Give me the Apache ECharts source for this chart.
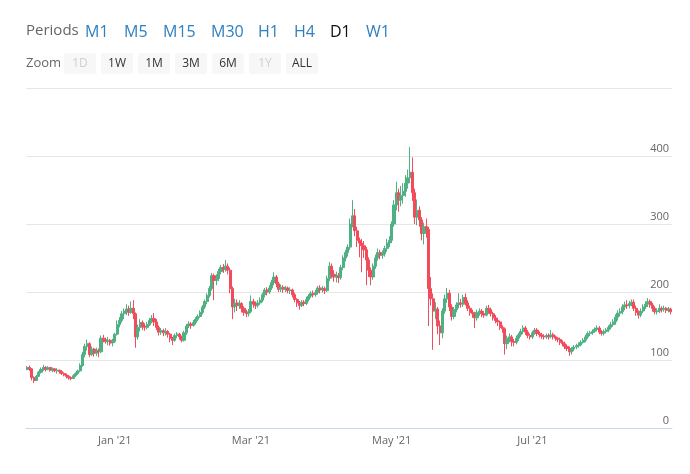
<!DOCTYPE html>
<html><head><meta charset="utf-8">
<script src="https://cdn.jsdelivr.net/npm/echarts@6/dist/echarts.min.js"></script>
<style>html,body{margin:0;padding:0;background:#fff}#c{width:690px;height:474px}</style>
</head><body><div id="c"></div>
<script>
// Daily candles, first day 2020-11-24
const startDate = '2020-11-24';
const opens = [
86,89,87,74,70,76,82,86,89,86,
89,85,87,84,85,83,80,78,76,74,
73,77,80,84,92,108,120,124,108,116,
110,114,112,132,130,127,129,125,
127,138,152,158,168,172,175,170,176,168,
134,148,155,150,148,152,158,161,156,148,
141,143,140,142,138,132,129,136,138,134,
129,140,150,153,151,155,160,164,170,178,
186,195,205,224,217,220,230,236,233,238,
232,205,178,184,180,183,176,170,168,171,
186,182,180,184,188,196,203,200,206,214,
222,212,204,207,204,206,202,203,196,189,
184,180,185,183,189,194,198,196,199,206,
203,205,202,220,238,226,222,224,221,236,
250,258,266,300,312,290,276,272,268,262,
247,232,222,238,250,258,254,256,264,272,
276,300,328,346,335,342,348,360,368,376,
346,310,320,306,286,296,292,205,190,172,
175,150,140,172,190,198,178,164,174,181,
184,182,192,184,176,170,168,162,170,172,
168,166,176,174,168,162,158,156,148,146,
124,132,134,127,126,132,137,142,147,141,
136,134,140,144,139,137,135,134,136,134,
137,134,132,130,126,124,120,117,112,116,
119,121,122,126,129,134,139,140,142,145,
147,141,139,142,144,148,152,156,163,169,
171,178,181,180,183,185,176,170,166,172,
178,182,186,181,176,171,172,176,174,176,
173,175];
const closes = [
89,87,74,70,76,82,86,89,86,89,
85,87,84,85,83,80,78,76,74,73,
77,80,84,92,108,120,124,108,116,110,
114,112,132,130,127,129,125,127,
138,152,158,168,172,175,170,176,168,134,
148,155,150,148,152,158,161,156,148,141,
143,140,142,138,132,129,136,138,134,129,
140,150,153,151,155,160,164,170,178,186,
195,205,224,217,220,230,236,233,238,232,
205,178,184,180,183,176,170,168,171,186,
182,180,184,188,196,203,200,206,214,222,
212,204,207,204,206,202,203,196,189,184,
180,185,183,189,194,198,196,199,206,203,
205,202,220,238,226,222,224,221,236,250,
258,266,300,312,290,276,272,268,262,247,
232,222,238,250,258,254,256,264,272,276,
300,328,346,335,342,348,360,368,376,346,
310,320,306,286,296,292,205,190,172,175,
150,140,172,190,198,178,164,174,181,184,
182,192,184,176,170,168,162,170,172,168,
166,176,174,168,162,158,156,148,146,124,
132,134,127,126,132,137,142,147,141,136,
134,140,144,139,137,135,134,136,134,137,
134,132,130,126,124,120,117,112,116,119,
121,122,126,129,134,139,140,142,145,147,
141,139,142,144,148,152,156,163,169,171,
178,181,180,183,185,176,170,166,172,178,
182,186,181,176,171,172,176,174,176,173,
175,171];
const lows = [
85,84,70,66,69,75,80,84,83,85,
83,82,82,80,80,78,76,73,71,70,
72,75,78,82,90,104,114,104,106,105,
106,104,110,126,124,122,121,120,
125,136,148,155,160,166,165,168,160,118,
130,142,144,143,145,150,154,150,144,136,
137,135,136,133,126,122,127,132,130,126,
127,137,147,146,149,152,157,162,167,175,
182,192,202,188,210,216,226,228,230,226,
198,160,170,172,175,170,165,163,164,169,
177,175,177,181,185,192,195,197,203,210,
207,200,200,199,200,198,197,192,185,178,
174,178,179,181,186,191,192,193,196,198,
199,197,200,216,220,215,214,213,218,232,
245,252,262,295,282,266,251,229,250,210,
222,210,218,234,246,248,249,252,259,266,
272,296,320,318,326,330,340,352,360,334,
300,298,296,276,270,280,150,180,115,160,
138,122,132,168,184,172,158,160,170,176,
177,178,180,172,165,162,147,158,165,163,
162,164,168,164,158,154,150,144,140,108,
116,126,120,120,123,128,134,138,137,132,
130,131,137,135,133,131,130,131,130,132,
130,128,126,122,120,116,113,106,108,113,
116,118,120,124,126,131,135,137,140,142,
138,136,136,139,141,145,149,152,158,164,
167,173,175,176,179,172,165,161,163,169,
175,178,177,171,167,167,169,170,171,169,
170,167];
const highs = [
91,92,88,76,78,84,89,93,91,91,
90,89,88,88,86,85,82,80,78,76,
79,82,86,95,112,124,130,126,120,118,
118,117,136,137,133,134,131,131,
140,158,163,172,176,182,180,186,188,170,
152,160,158,154,156,162,166,169,160,151,
147,146,147,144,140,134,139,141,140,136,
143,153,157,156,159,163,167,173,181,189,
198,209,228,227,226,234,240,241,247,242,
236,208,190,189,188,185,179,174,175,195,
190,186,188,192,199,206,207,210,218,229,
225,215,211,210,209,208,207,205,199,191,
187,188,188,193,197,201,202,203,209,210,
209,208,224,244,242,232,230,228,240,254,
262,270,308,335,322,296,280,278,275,266,
251,236,242,255,264,262,261,268,278,282,
304,335,362,352,356,360,372,380,413,398,
352,336,326,310,302,308,296,222,198,185,
178,158,176,196,206,203,182,178,185,198,
190,196,198,188,180,174,171,174,176,175,
172,180,181,177,171,166,162,158,151,148,
136,139,137,131,136,140,146,151,150,144,
139,143,147,147,142,140,138,139,139,144,
140,136,134,133,129,127,123,120,119,122,
124,126,129,132,137,142,143,145,148,151,
150,144,145,147,151,156,160,167,173,176,
182,186,188,187,189,189,180,173,176,182,
186,191,189,184,179,176,182,179,180,178,
178,177];

const tickDates = ['2021-01-01', '2021-03-01', '2021-05-01', '2021-07-01'];
const tickLabels = ["Jan '21", "Mar '21", "May '21", "Jul '21"];
const periods = ['M1', 'M5', 'M15', 'M30', 'H1', 'H4', 'D1', 'W1'];
const activePeriod = 'D1';
const zoomButtons = ['1D', '1W', '1M', '3M', '6M', '1Y', 'ALL'];
const disabledZoom = ['1D', '1Y'];

// build category dates
const dates = [];
const t0 = Date.UTC(+startDate.slice(0,4), +startDate.slice(5,7) - 1, +startDate.slice(8,10));
for (let i = 0; i < opens.length; i++) {
  const d = new Date(t0 + i * 86400000);
  dates.push(d.toISOString().slice(0, 10));
}
const candles = opens.map((o, i) => [o, closes[i], lows[i], highs[i]]);

const FONT = '"Open Sans", "Noto Sans", sans-serif';
const graphic = [];
graphic.push({type: 'text', x: 26, y: 31, style: {text: 'Periods', fill: '#666', font: '15px ' + FONT, textVerticalAlign: 'middle'}});
const periodX = [85, 124, 163, 211, 258, 294, 330, 366];
periods.forEach((p, i) => {
  graphic.push({type: 'text', x: periodX[i], y: 32, style: {text: p, fill: p === activePeriod ? '#111' : '#2f80c0', font: '16px ' + FONT, textVerticalAlign: 'middle'}});
});
graphic.push({type: 'text', x: 26, y: 63, style: {text: 'Zoom', fill: '#666', font: '13px ' + FONT, textVerticalAlign: 'middle'}});
zoomButtons.forEach((b, i) => {
  const x = 64 + i * 37;
  graphic.push({type: 'rect', shape: {x: x, y: 53, width: 32, height: 21, r: 2}, style: {fill: '#f7f7f7'}});
  graphic.push({type: 'text', x: x + 16, y: 63.5, style: {text: b, fill: disabledZoom.includes(b) ? '#d0d0d0' : '#333', font: '12px ' + FONT, textAlign: 'center', textVerticalAlign: 'middle'}});
});

const chart = echarts.init(document.getElementById('c'));
chart.setOption({
  animation: false,
  backgroundColor: '#fff',
  graphic: graphic,
  grid: {left: 26, right: 18, top: 88, bottom: 46},
  xAxis: {
    type: 'category',
    data: dates,
    boundaryGap: true,
    axisLine: {lineStyle: {color: '#ccd6eb'}},
    axisTick: {alignWithLabel: true, length: 9, lineStyle: {color: '#ccd6eb'},
      interval: (idx, val) => tickDates.includes(val)},
    axisLabel: {
      interval: (idx, val) => tickDates.includes(val),
      formatter: v => tickLabels[tickDates.indexOf(v)] || '',
      color: '#666', fontSize: 11, fontFamily: FONT, margin: 7
    },
    splitLine: {show: false}
  },
  yAxis: {
    type: 'value', position: 'right', min: 0, max: 500, interval: 100,
    axisLine: {show: false}, axisTick: {show: false},
    splitLine: {lineStyle: {color: '#e6e6e6'}},
    axisLabel: {inside: true, margin: 3, color: '#666', fontSize: 11, fontFamily: FONT,
      verticalAlign: 'bottom', padding: [0, 0, 2, 0], showMaxLabel: false,
      formatter: v => v === 500 ? '' : String(v)}
  },
  series: [{
    type: 'candlestick',
    data: candles,
    barWidth: 2.6,
    itemStyle: {color: '#4fb083', color0: '#f14b5c', borderColor: '#4fb083', borderColor0: '#f14b5c', borderWidth: 1}
  }]
});
</script></body></html>
